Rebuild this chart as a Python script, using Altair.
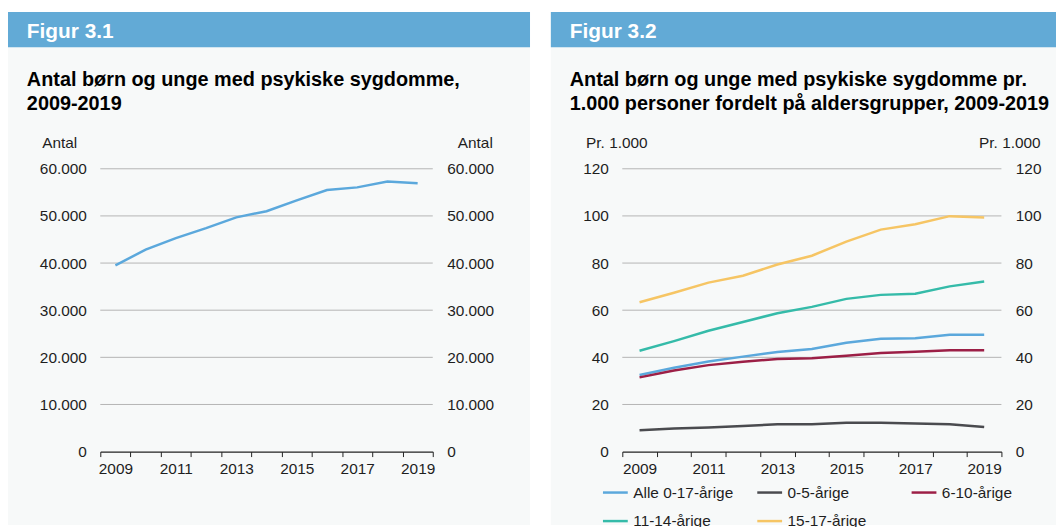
import altair as alt
import pandas as pd

FONT = "Liberation Sans"

years = list(range(2009, 2020))

# Figur 3.1 - antal
antal = [39500, 42850, 45300, 47400, 49700, 51000, 53300, 55500, 56050, 57300, 56950]

# Figur 3.2 - pr. 1.000
alle = [32.5, 35.6, 38.2, 40.3, 42.3, 43.5, 46.2, 47.9, 48.1, 49.6, 49.6]
aar0_5 = [9.1, 9.8, 10.2, 10.9, 11.6, 11.6, 12.2, 12.2, 11.9, 11.6, 10.4]
aar6_10 = [31.5, 34.4, 36.7, 38.1, 39.3, 39.6, 40.7, 41.8, 42.4, 43.0, 43.0]
aar11_14 = [42.8, 46.9, 51.3, 55.0, 58.7, 61.4, 64.8, 66.5, 67.0, 70.1, 72.2]
aar15_17 = [63.4, 67.4, 71.7, 74.6, 79.4, 83.1, 89.1, 94.2, 96.5, 99.9, 99.3]

series_names = ["Alle 0-17-årige", "0-5-årige", "6-10-årige", "11-14-årige", "15-17-årige"]
series_values = [alle, aar0_5, aar6_10, aar11_14, aar15_17]
series_colors = ["#5ba8dc", "#4a4b4f", "#9c1f46", "#35bba9", "#f6c564"]

header1 = "Figur 3.1"
header2 = "Figur 3.2"
title1 = ["Antal børn og unge med psykiske sygdomme,", "2009-2019"]
title2 = ["Antal børn og unge med psykiske sygdomme pr.",
          "1.000 personer fordelt på aldersgrupper, 2009-2019"]
ytitle1 = "Antal"
ytitle2 = "Pr. 1.000"
yticks1 = [0, 10000, 20000, 30000, 40000, 50000, 60000]
yticks2 = [0, 20, 40, 60, 80, 100, 120]

df1 = pd.DataFrame({"year": years, "value": antal})
rows = []
for name, vals in zip(series_names, series_values):
    for y, v in zip(years, vals):
        rows.append({"year": y, "value": v, "serie": name})
df2 = pd.DataFrame(rows)
one = pd.DataFrame({"k": [0]})
grid1 = pd.DataFrame({"value": yticks1[1:]})
grid2 = pd.DataFrame({"value": yticks2[1:]})

H = 285
W1, W2 = 335, 382
BG = "#f7f9f9"
HEAD = "#62aad6"
GRID = "#b4b4b4"
LBL = "#1e1e1e"
FS = 15.5


def x_enc():
    return alt.X(
        "year:O",
        scale=alt.Scale(type="band", paddingInner=0, paddingOuter=0),
        axis=alt.Axis(
            title=None, labelAngle=0, tickBand="extent", tickSize=5, tickColor="#222222",
            domainColor="#222222", domainWidth=1.2, labelFont=FONT, labelFontSize=FS,
            labelColor=LBL, labelPadding=5, labelOverlap=False, zindex=2,
            labelExpr="toNumber(datum.value) % 2 == 1 ? datum.label : ''",
        ),
    )


def y_axis(orient, vals, title, tx, fmt_dot):
    kw = dict(
        orient=orient, values=vals, title=title, titleAngle=0, titleX=tx, titleY=-21,
        titleAlign="left" if orient == "left" else "right", titleBaseline="alphabetic",
        titleFont=FONT, titleFontSize=FS, titleFontWeight="normal", titleColor=LBL,
        labelFont=FONT, labelFontSize=FS, labelColor=LBL, labelPadding=14,
        domain=False, ticks=False, grid=False, zindex=1,
    )
    if fmt_dot:
        kw["labelExpr"] = "replace(format(datum.value, ','), ',', '.')"
    return alt.Axis(**kw)


def decor(px_left, px_right, header, title, w, tsize):
    panel = alt.Chart(one).mark_rect(color=BG).encode(
        x=alt.value(px_left), x2=alt.value(w + px_right),
        y=alt.value(-158), y2=alt.value(H + 74),
    )
    head = alt.Chart(one).mark_rect(color=HEAD).encode(
        x=alt.value(px_left), x2=alt.value(w + px_right),
        y=alt.value(-158), y2=alt.value(-122.5),
    )
    htxt = alt.Chart(one).mark_text(
        align="left", baseline="alphabetic", font=FONT, fontSize=21,
        fontWeight="bold", color="white",
    ).encode(x=alt.value(px_left + 19), y=alt.value(-132), text=alt.value(header))
    ttxt = alt.Chart(one).mark_text(
        align="left", baseline="alphabetic", font=FONT, fontSize=tsize,
        fontWeight="bold", color="#000000", lineHeight=24,
    ).encode(x=alt.value(px_left + 19), y=alt.value(-83), text=alt.value(title))
    return [panel, head, htxt, ttxt]


def grid_layer(gdf, dom):
    return alt.Chart(gdf).mark_rule(color=GRID, strokeWidth=1).encode(
        y=alt.Y("value:Q", scale=alt.Scale(domain=dom, nice=False), axis=None),
    )


# Panel 1
dom1 = [0, 60000]
line1 = alt.Chart(df1).mark_line(strokeWidth=2.5, color="#5ba8dc").encode(
    x=x_enc(),
    y=alt.Y("value:Q", scale=alt.Scale(domain=dom1, nice=False),
            axis=y_axis("left", yticks1, ytitle1, -59, True)),
)
right1 = alt.Chart(df1).mark_line(opacity=0).encode(
    x=x_enc(),
    y=alt.Y("value:Q", scale=alt.Scale(domain=dom1, nice=False),
            axis=y_axis("right", yticks1, ytitle1, 60, True)),
)
p1 = alt.layer(
    *decor(-93, 98, header1, title1, W1, 20), grid_layer(grid1, dom1), line1, right1
).resolve_scale(y="independent").properties(width=W1, height=H)

# Panel 2
dom2 = [0, 120]
line2 = alt.Chart(df2).mark_line(strokeWidth=2.5).encode(
    x=x_enc(),
    y=alt.Y("value:Q", scale=alt.Scale(domain=dom2, nice=False),
            axis=y_axis("left", yticks2, ytitle2, -37, False)),
    color=alt.Color(
        "serie:N",
        scale=alt.Scale(domain=series_names, range=series_colors),
        legend=alt.Legend(
            orient="none", legendX=-21, legendY=312, direction="horizontal",
            columns=3, title=None, symbolType="stroke", symbolSize=625,
            symbolStrokeWidth=2.5, labelFont=FONT, labelFontSize=FS, labelColor=LBL,
            labelOffset=4, columnPadding=18.5, rowPadding=6, gridAlign="all", padding=0,
        ),
    ),
    detail="serie:N",
)
right2 = alt.Chart(df2).mark_line(opacity=0).encode(
    x=x_enc(),
    y=alt.Y("value:Q", scale=alt.Scale(domain=dom2, nice=False),
            axis=y_axis("right", yticks2, ytitle2, 39, False)),
    detail="serie:N",
)
p2 = alt.layer(
    *decor(-72, 55, header2, title2, W2, 20), grid_layer(grid2, dom2), line2, right2
).resolve_scale(y="independent").properties(width=W2, height=H)

chart = alt.hconcat(p1, p2, spacing=191, bounds="flush").resolve_legend(
    color="independent"
).properties(
    padding={"left": 0, "top": 2, "right": 0, "bottom": 0},
    background="white",
).configure_view(stroke=None)

chart.save("out.html", embed_options={"renderer": "svg", "actions": False})
